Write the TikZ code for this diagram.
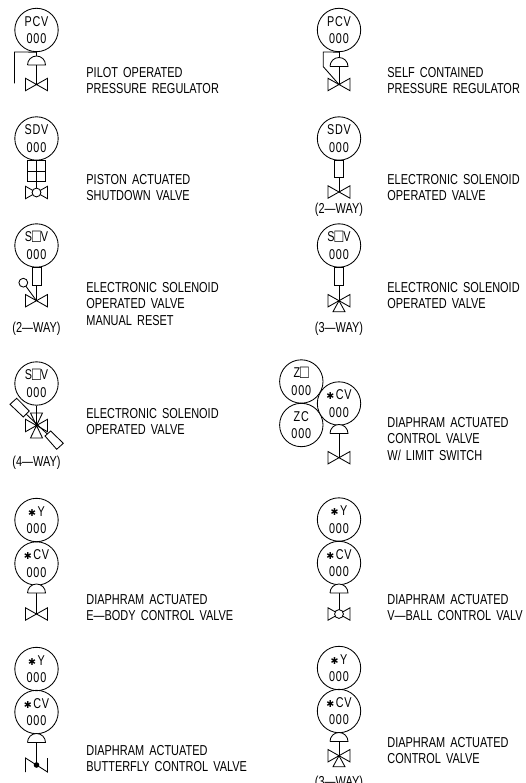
\documentclass[tikz,border=0pt]{standalone}
\usepackage{fontspec}
\newfontfamily\cadfont[FakeStretch=0.76,WordSpace=1.7]{Liberation Sans}
\newfontfamily\instcad[FakeStretch=0.76,LetterSpace=6]{Liberation Sans}
\newfontfamily\starfont{DejaVu Sans}
\newcommand{\lblfont}{\cadfont\fontsize{14.4}{16.5}\selectfont}
\newcommand{\instfont}{\instcad\fontsize{14.2}{17.6}\selectfont}
\newcommand{\starmark}{{\starfont\fontsize{9.5}{9.5}\selectfont ✱}\kern1.5pt}
\newcommand{\sqmark}{\raisebox{-1.2pt}{\fontsize{19}{19}\selectfont □}}
\tikzset{
  inst/.style={draw,circle,minimum size=43.4pt,inner sep=0pt,align=center,font=\instfont},
  lbl/.style={anchor=north west,inner sep=0pt,align=left,font=\lblfont},
  way/.style={inner sep=0pt,font=\lblfont},
  pipe/.style={line width=0.85pt},
}
\newcommand{\vbow}[2]{\draw[pipe] (#1-11,#2-6.2) -- (#1+11,#2+6.2) -- (#1+11,#2-6.2) -- (#1-11,#2+6.2) -- cycle;}
\newcommand{\dome}[2]{\draw[pipe,fill=white] (#1-9,#2) -- (#1+9,#2) arc[start angle=0,end angle=-180,radius=9];}
\newcommand{\threeway}[2]{\draw[pipe] (#1,#2) -- (#1+6,#2+11) -- (#1-6,#2+11) -- cycle;}
\newcommand{\vball}[2]{\vbow{#1}{#2}\draw[pipe,fill=white] (#1,#2) circle[radius=4.4];}
\begin{document}
\begin{tikzpicture}[x=1pt,y=-1pt,line width=0.85pt]
\useasboundingbox (0,0) rectangle (526,783);
\clip (0,0) rectangle (526,783);
% Row 1 left
\node[inst] (a1) at (36.5,30) {PCV\\000};
\coordinate (a1v) at (36.5,84.5);
\draw[pipe] (a1.south) -- (a1v);
\dome{36.5}{65}
\vbow{36.5}{84.5}
\coordinate (a1f) at (14.5,83.5);
\draw[pipe] (a1.south) -- (14.5,52) -- (a1f);
\node[lbl] (t1) at (86,67) {PILOT OPERATED\\PRESSURE REGULATOR};
% Row 1 right
\node[inst] (b1) at (339,30) {PCV\\000};
\coordinate (b1v) at (339,84.5);
\draw[pipe] (b1.south) -- (b1v);
\dome{339}{66.5}
\vbow{339}{84.5}
\draw[pipe] (b1.south) -- (323.3,52) -- (323.3,66.7) -- (b1v);
\node[lbl] (t2) at (387,67) {SELF CONTAINED\\PRESSURE REGULATOR};
% Row 2 left
\node[inst] (a2) at (36.5,138.5) {SDV\\000};
\coordinate (a2v) at (36.5,192.5);
\draw[pipe] (a2.south) -- (a2v);
\draw[pipe] (27.5,160.5) rectangle (45.5,181.5);
\draw[pipe] (27.5,171.5) -- (45.5,171.5);
\vball{36.5}{192.5}
\node[lbl] (t3) at (86,174) {PISTON ACTUATED\\SHUTDOWN VALVE};
% Row 2 right
\node[inst] (b2) at (339,138.5) {SDV\\000};
\coordinate (b2v) at (339,192);
\draw[pipe] (b2.south) -- (b2v);
\draw[pipe,fill=white] (334.5,160) rectangle (343.5,177.5);
\vbow{339}{192}
\node[way] (w1) at (339,210) {(2—WAY)};
\node[lbl] (t4) at (387,174) {ELECTRONIC SOLENOID\\OPERATED VALVE};
% Row 3 left
\node[inst] (a3) at (36.5,245.5) {S\sqmark V\\000};
\coordinate (a3v) at (36.5,300.7);
\draw[pipe] (a3.south) -- (a3v);
\draw[pipe,fill=white] (32,267.5) rectangle (41,285);
\vbow{36.5}{300.7}
\coordinate (a3r) at (23.3,282.7);
\draw[pipe] (a3r) -- (a3v);
\draw[pipe,fill=white] (a3r) circle[radius=4.4];
\node[way] (w2) at (36.5,329) {(2—WAY)};
\node[lbl] (t5) at (86,282) {ELECTRONIC SOLENOID\\OPERATED VALVE\\MANUAL RESET};
% Row 3 right
\node[inst] (b3) at (339,245.5) {S\sqmark V\\000};
\coordinate (b3v) at (339,300.7);
\draw[pipe] (b3.south) -- (b3v);
\draw[pipe,fill=white] (334.5,267.5) rectangle (343.5,285);
\vbow{339}{300.7}
\threeway{339}{300.7}
\node[way] (w3) at (339,329) {(3—WAY)};
\node[lbl] (t6) at (387,282) {ELECTRONIC SOLENOID\\OPERATED VALVE};
% Row 4 left
\node[inst] (a4) at (36.5,383.5) {S\sqmark V\\000};
\coordinate (a4v) at (36.5,425.5);
\draw[pipe] (a4.south) -- (a4v);
\vbow{36.5}{425.5}
\draw[pipe] (a4v) -- (42.5,413) -- (30.5,413) -- cycle;
\draw[pipe] (a4v) -- (42.5,438) -- (30.5,438) -- cycle;
\draw[pipe] (26.3,414.2) -- (47.8,434.5);
\draw[pipe,fill=white] (10,404.3) -- (16.7,398.3) -- (29.3,411) -- (23.3,417) -- cycle;
\draw[pipe,fill=white] (45,436) -- (50.7,431) -- (63.3,443.3) -- (56.7,449.3) -- cycle;
\node[way] (w4) at (36.5,463) {(4—WAY)};
\node[lbl] (t7) at (86,408) {ELECTRONIC SOLENOID\\OPERATED VALVE};
% Row 4 right
\node[inst] (b4o) at (301.3,381.5) {Z\sqmark\\000};
\node[inst] (b4c) at (301.3,425) {ZC\\000};
\node[inst,fill=white] (b4) at (339,403.5) {\starmark CV\\000};
\coordinate (b4v) at (339,457.7);
\draw[pipe] (b4.south) -- (b4v);
\dome{339}{433.5}
\vbow{339}{457.7}
\node[lbl] (t8) at (387,417) {DIAPHRAM ACTUATED\\CONTROL VALVE\\W/ LIMIT SWITCH};
% Row 5 left
\node[inst] (a5y) at (36.5,520) {\starmark Y\\000};
\node[inst] (a5) at (36.5,563.5) {\starmark CV\\000};
\coordinate (a5v) at (36.5,614);
\draw[pipe] (a5.south) -- (a5v);
\dome{36.5}{593}
\vbow{36.5}{614}
\node[lbl] (t9) at (86,594) {DIAPHRAM ACTUATED\\E—BODY CONTROL VALVE};
% Row 5 right
\node[inst] (b5y) at (339,519.5) {\starmark Y\\000};
\node[inst] (b5) at (339,563) {\starmark CV\\000};
\coordinate (b5v) at (339,614);
\draw[pipe] (b5.south) -- (b5v);
\dome{339}{593}
\vball{339}{614}
\node[lbl] (t10) at (387,594) {DIAPHRAM ACTUATED\\V—BALL CONTROL VALV};
% Row 6 left
\node[inst] (a6y) at (36.5,669) {\starmark Y\\000};
\node[inst] (a6) at (36.5,712) {\starmark CV\\000};
\coordinate (a6v) at (36.5,765);
\draw[pipe] (a6.south) -- (a6v);
\dome{36.5}{742.5}
\draw[pipe] (25.5,772) -- (25.5,758) -- (47.5,772) -- (47.5,758);
\fill (a6v) circle[radius=2.8];
\node[lbl] (t11) at (86,745) {DIAPHRAM ACTUATED\\BUTTERFLY CONTROL VALVE};
% Row 6 right
\node[inst] (b6y) at (339,668) {\starmark Y\\000};
\node[inst] (b6) at (339,711) {\starmark CV\\000};
\coordinate (b6v) at (339,755.7);
\draw[pipe] (b6.south) -- (b6v);
\dome{339}{741.5}
\vbow{339}{755.7}
\threeway{339}{755.7}
\node[way] (w5) at (339,783) {(3—WAY)};
\node[lbl] (t12) at (387,737) {DIAPHRAM ACTUATED\\CONTROL VALVE};
\end{tikzpicture}
\end{document}
